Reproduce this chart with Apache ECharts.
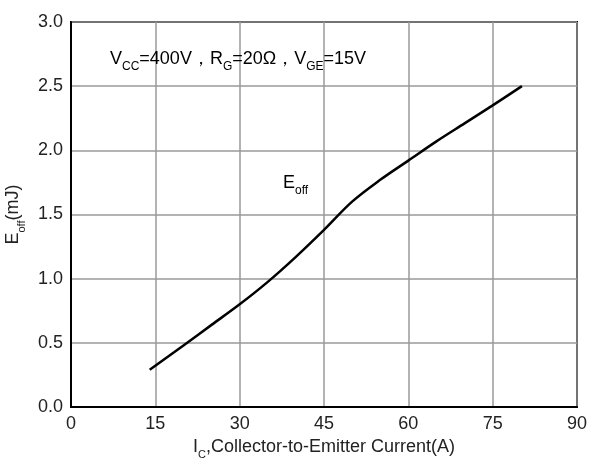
<!DOCTYPE html>
<html>
<head>
<meta charset="utf-8">
<script src="https://cdn.jsdelivr.net/npm/echarts@6/dist/echarts.min.js"></script>
<style>
  html, body { margin: 0; padding: 0; background: #fff; }
  #chart { width: 589px; height: 460px; }
</style>
</head>
<body>
<div id="chart"></div>
<script>
// Turn-off switching energy vs. collector current
const currentA = [14, 20, 25, 30, 35, 40, 45, 50, 55, 60, 65, 70, 75, 80.2];
const eoffMJ   = [0.29, 0.48, 0.64, 0.80, 0.975, 1.17, 1.38, 1.60, 1.77, 1.92, 2.07, 2.21, 2.35, 2.5];

const xTicks = [0, 15, 30, 45, 60, 75, 90];
const yTicks = [0.0, 0.5, 1.0, 1.5, 2.0, 2.5, 3.0];

const FONT = '"Liberation Sans", Arial, sans-serif';
const mainStyle = { fontFamily: FONT, fontSize: 18, color: '#111', verticalAlign: 'bottom', padding: [0, 0, 5, 0] };
const subStyle  = { fontFamily: FONT, fontSize: 12, color: '#111', verticalAlign: 'bottom' };
const axisRich = {
  m: Object.assign({}, mainStyle, { color: '#222', fontSize: 18 }),
  s: Object.assign({}, subStyle, { color: '#222', fontSize: 11 })
};

const chart = echarts.init(document.getElementById('chart'), null, { renderer: 'canvas' });

chart.setOption({
  backgroundColor: '#fff',
  animation: false,
  grid: {
    left: 71, right: 12, top: 22, bottom: 53,
    containLabel: false,
    outerBoundsMode: 'none',
    show: true, borderColor: '#000', borderWidth: 2, backgroundColor: '#fff'
  },
  xAxis: {
    type: 'value',
    min: xTicks[0], max: xTicks[xTicks.length - 1], interval: 15,
    axisLine: { show: true, lineStyle: { color: '#000', width: 2 } },
    axisTick: { show: false },
    axisLabel: { color: '#222', fontFamily: FONT, fontSize: 18, margin: 8 },
    splitLine: { show: true, lineStyle: { color: '#9a9a9a', width: 1.5 } },
    name: '{m|I}{s|C}{m|,Collector-to-Emitter Current(A)}',
    nameLocation: 'middle',
    nameGap: 29,
    nameTextStyle: { rich: axisRich }
  },
  yAxis: {
    type: 'value',
    min: yTicks[0], max: yTicks[yTicks.length - 1], interval: 0.5,
    axisLine: { show: true, lineStyle: { color: '#000', width: 2 } },
    axisTick: { show: false },
    axisLabel: {
      color: '#222', fontFamily: FONT, fontSize: 18, margin: 8,
      formatter: v => v.toFixed(1)
    },
    splitLine: { show: true, lineStyle: { color: '#9a9a9a', width: 1.5 } },
    name: '{m|E}{s|off}{m|(mJ)}',
    nameLocation: 'middle',
    nameRotate: 90,
    nameGap: 44,
    nameTextStyle: { rich: axisRich }
  },
  series: [{
    type: 'line',
    data: currentA.map((x, i) => [x, eoffMJ[i]]),
    smooth: 0.35,
    showSymbol: false,
    lineStyle: { color: '#000', width: 2.5 },
    z: 5
  }],
  graphic: [
    {
      type: 'text',
      left: 110, top: 50,
      style: {
        text: '{m|V}{s|CC}{m|=400V，R}{s|G}{m|=20Ω，V}{s|GE}{m|=15V}',
        rich: { m: mainStyle, s: subStyle }
      },
      z: 10
    },
    {
      type: 'text',
      left: 283, top: 174,
      style: {
        text: '{m|E}{s|off}',
        rich: { m: mainStyle, s: subStyle }
      },
      z: 10
    }
  ]
});
</script>
</body>
</html>
